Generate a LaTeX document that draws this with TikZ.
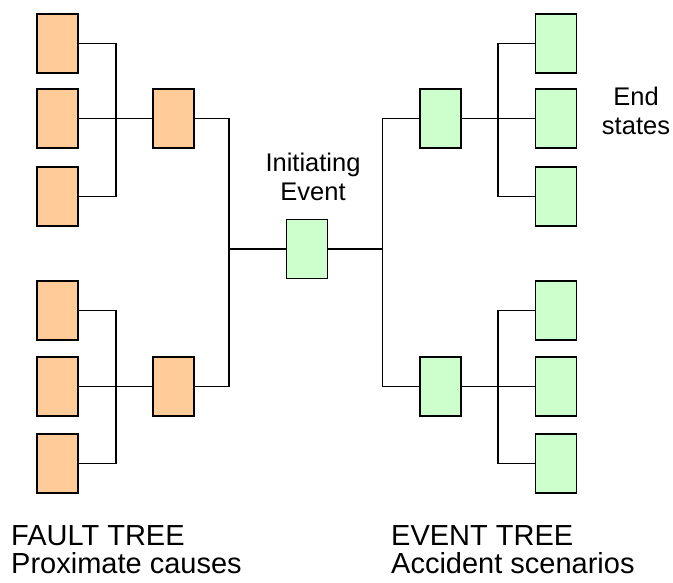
\documentclass[tikz,border=0pt]{standalone}
\usepackage{fontspec}
\setmainfont{Liberation Sans}
\begin{document}
\begin{tikzpicture}[x=1pt,y=-1pt,
  blk/.style={draw=black,line width=1.6pt,rectangle,inner sep=0pt,
    minimum width=41pt,minimum height=59pt},
  fault/.style={blk,fill=faultfill},
  event/.style={blk,fill=eventfill},
  link/.style={draw=black,line width=1.3pt},
  lbl/.style={inner sep=0pt,font=\fontsize{25.5}{29}\selectfont},
  biglbl/.style={inner sep=0pt,font=\fontsize{29}{29}\selectfont}]
\definecolor{faultfill}{HTML}{FFCC99}
\definecolor{eventfill}{HTML}{CCFFCC}
\useasboundingbox (0,0) rectangle (673,582);

% fault tree: basic causes
\node[fault] (f1) at (57.5,43.5) {};
\node[fault] (f2) at (57.5,118.5) {};
\node[fault] (f3) at (57.5,196.5) {};
\node[fault] (f4) at (57.5,310.5) {};
\node[fault] (f5) at (57.5,386.5) {};
\node[fault] (f6) at (57.5,463.5) {};
% fault tree: intermediate gates
\node[fault] (m1) at (173.5,118.5) {};
\node[fault] (m2) at (173.5,386.5) {};
% initiating event
\node[event] (ie) at (307,249) {};
% event tree: branches
\node[event] (e1) at (440.5,118.5) {};
\node[event] (e2) at (440.5,386.5) {};
% event tree: end states
\node[event] (r1) at (556,43.5) {};
\node[event] (r2) at (556,118.5) {};
\node[event] (r3) at (556,196.5) {};
\node[event] (r4) at (556,310.5) {};
\node[event] (r5) at (556,386.5) {};
\node[event] (r6) at (556,463.5) {};

% bus junctions
\coordinate (b1) at (116,118.5);
\coordinate (b2) at (116,386.5);
\coordinate (c1) at (229,249);
\coordinate (c2) at (382.5,249);
\coordinate (d1) at (498,118.5);
\coordinate (d2) at (498,386.5);

% fault tree links
\draw[link] (f1.east) -| (b1) |- (f3.east);
\draw[link] (f2.east) -- (m1.west);
\draw[link] (f4.east) -| (b2) |- (f6.east);
\draw[link] (f5.east) -- (m2.west);
\draw[link] (m1.east) -| (c1) |- (m2.east);
\draw[link] (c1) -- (ie.west);

% event tree links
\draw[link] (ie.east) -- (c2);
\draw[link] (e1.west) -| (c2) |- (e2.west);
\draw[link] (r1.west) -| (d1) |- (r3.west);
\draw[link] (e1.east) -- (r2.west);
\draw[link] (r4.west) -| (d2) |- (r6.west);
\draw[link] (e2.east) -- (r5.west);

% labels
\node[lbl,anchor=base] (tie1) at (313,171.5) {Initiating};
\node[lbl,anchor=base] (tie2) at (313,200.5) {Event};
\node[lbl,anchor=base] (tes1) at (636,105.5) {End};
\node[lbl,anchor=base] (tes2) at (636,134.5) {states};
\node[biglbl,anchor=base west] (tft1) at (11,545) {FAULT TREE};
\node[biglbl,anchor=base west] (tft2) at (11,573.5) {Proximate causes};
\node[biglbl,anchor=base west] (tet1) at (391,545) {EVENT TREE};
\node[biglbl,anchor=base west] (tet2) at (391,573.5) {Accident scenarios};
\end{tikzpicture}
\end{document}
